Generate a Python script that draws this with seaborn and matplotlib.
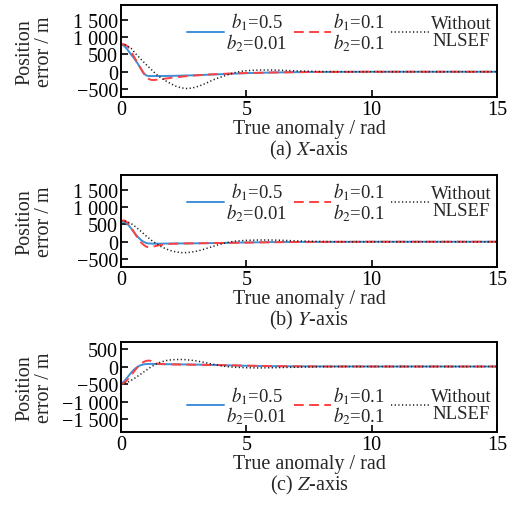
import numpy as np
import pandas as pd
import matplotlib
matplotlib.use("Agg")
import matplotlib.pyplot as plt
import seaborn as sns
from matplotlib.ticker import FuncFormatter, FixedLocator

sns.set_theme(style="ticks")
plt.rcParams["font.family"] = ["Liberation Serif", "DejaVu Serif"]
plt.rcParams["mathtext.fontset"] = "stix"

# ---------------- data ----------------
# (a) X-axis
x_blue_t = [0, 0.1, 0.2, 0.3, 0.4, 0.5, 0.6, 0.7, 0.8, 0.9, 1.0, 1.1, 1.5, 2.0, 2.5, 3.0, 3.5, 4.0, 4.5, 5.0, 6.0, 7.0, 8.0, 10.0, 15.0]
x_blue_v = [800, 760, 690, 600, 500, 410, 310, 200, 80, -40, -105, -125, -125, -120, -110, -100, -85, -70, -55, -40, -22, -12, -5, 0, 0]
x_red_t = [0, 0.1, 0.2, 0.3, 0.4, 0.5, 0.6, 0.7, 0.8, 0.9, 1.0, 1.1, 1.2, 1.3, 1.5, 1.8, 2.0, 2.5, 3.0, 3.5, 4.0, 4.5, 5.0, 6.0, 7.0, 8.0, 10.0, 15.0]
x_red_v = [780, 800, 770, 700, 590, 460, 330, 200, 80, -40, -140, -205, -235, -240, -225, -195, -175, -135, -105, -80, -62, -48, -38, -22, -12, -5, 0, 0]
x_dot_t = [0, 0.2, 0.4, 0.6, 0.8, 1.0, 1.2, 1.4, 1.6, 1.8, 2.0, 2.2, 2.4, 2.6, 2.8, 3.0, 3.2, 3.4, 3.6, 3.8, 4.0, 4.2, 4.4, 4.6, 4.8, 5.0, 5.5, 6.0, 6.5, 7.0, 8.0, 9.0, 15.0]
x_dot_v = [800, 770, 680, 510, 360, 210, 70, -70, -180, -270, -350, -420, -465, -485, -475, -440, -390, -330, -260, -200, -150, -100, -55, -15, 15, 30, 50, 50, 40, 25, 5, 0, 0]

# (b) Y-axis
y_blue_t = [0, 0.1, 0.2, 0.3, 0.4, 0.5, 0.6, 0.7, 0.8, 0.9, 1.0, 1.1, 1.3, 1.5, 2.0, 3.0, 4.0, 5.0, 6.0, 8.0, 10.0, 15.0]
y_blue_v = [580, 575, 550, 480, 390, 290, 200, 120, 50, 0, -35, -50, -55, -55, -50, -45, -35, -20, -10, -3, 0, 0]
y_red_t = [0, 0.1, 0.2, 0.3, 0.4, 0.5, 0.6, 0.7, 0.8, 0.9, 1.0, 1.1, 1.2, 1.4, 1.6, 2.0, 2.5, 3.0, 4.0, 5.0, 6.0, 7.0, 8.0, 10.0, 15.0]
y_red_v = [600, 620, 590, 520, 420, 300, 180, 70, -20, -90, -140, -160, -150, -120, -90, -60, -50, -45, -35, -25, -15, -8, -4, 0, 0]
y_dot_t = [0, 0.2, 0.4, 0.6, 0.8, 1.0, 1.2, 1.4, 1.6, 1.8, 2.0, 2.2, 2.4, 2.6, 2.8, 3.0, 3.2, 3.4, 3.6, 3.8, 4.0, 4.2, 4.4, 4.6, 5.0, 5.5, 6.0, 6.5, 7.0, 8.0, 9.0, 15.0]
y_dot_v = [600, 590, 530, 420, 300, 170, 50, -50, -140, -210, -260, -295, -315, -315, -300, -275, -240, -195, -150, -105, -65, -30, 0, 20, 40, 50, 50, 40, 25, 5, 0, 0]

# (c) Z-axis
z_blue_t = [0, 0.1, 0.2, 0.3, 0.4, 0.5, 0.6, 0.7, 0.8, 0.9, 1.0, 1.2, 1.5, 2.0, 3.0, 4.0, 5.0, 6.0, 8.0, 10.0, 15.0]
z_blue_v = [-500, -440, -360, -270, -180, -100, -40, 10, 40, 60, 70, 75, 70, 65, 55, 40, 20, 10, 3, 0, 0]
z_red_t = [0, 0.1, 0.2, 0.3, 0.4, 0.5, 0.6, 0.7, 0.8, 0.9, 1.0, 1.1, 1.2, 1.3, 1.4, 1.6, 2.0, 3.0, 4.0, 5.0, 6.0, 7.0, 8.0, 15.0]
z_red_v = [-500, -480, -420, -340, -250, -160, -70, 10, 80, 130, 160, 170, 160, 120, 90, 70, 60, 50, 40, 25, 12, 5, 0, 0]
z_dot_t = [0, 0.2, 0.4, 0.6, 0.8, 1.0, 1.2, 1.4, 1.6, 1.8, 2.0, 2.2, 2.4, 2.6, 2.8, 3.0, 3.2, 3.4, 3.6, 3.8, 4.0, 4.2, 4.5, 5.0, 5.5, 6.0, 7.0, 8.0, 9.0, 15.0]
z_dot_v = [-500, -470, -400, -310, -210, -110, -10, 70, 130, 170, 190, 200, 200, 195, 180, 160, 135, 105, 75, 45, 20, 0, -20, -35, -40, -35, -20, -5, 0, 0]

series_labels = ["$b_1$=0.5\n$b_2$=0.01", "$b_1$=0.1\n$b_2$=0.1", "Without\nNLSEF"]
captions = ["(a) $\\mathit{X}$-axis", "(b) $\\mathit{Y}$-axis", "(c) $\\mathit{Z}$-axis"]
x_ticks = [0, 5, 10, 15]
y_ticks_top = [-500, 0, 500, 1000, 1500]
y_ticks_bot = [-1500, -1000, -500, 0, 500]

panels = [
    ((x_blue_t, x_blue_v), (x_red_t, x_red_v), (x_dot_t, x_dot_v)),
    ((y_blue_t, y_blue_v), (y_red_t, y_red_v), (y_dot_t, y_dot_v)),
    ((z_blue_t, z_blue_v), (z_red_t, z_red_v), (z_dot_t, z_dot_v)),
]

colors = ["#3f8fd8", "#ff4040", "#1a1a1a"]
styles = ["-", (0, (5, 2.8)), (0, (0.8, 1.6))]
widths = [1.4, 1.4, 1.1]

W, H = 513, 506
fig = plt.figure(figsize=(W / 100, H / 100), dpi=100)
boxes = [(6, 98), (176, 268), (343, 433)]
left_px, right_px = 121, 497
FS = 14.5

for i, (ser, (top, bot)) in enumerate(zip(panels, boxes)):
    ax = fig.add_axes([left_px / W, 1 - bot / H, (right_px - left_px) / W, (bot - top) / H])
    for (t, v), c, ls, lw, lab in zip(ser, colors, styles, widths, series_labels):
        sns.lineplot(x=t, y=v, ax=ax, color=c, linestyle=ls, linewidth=lw, label=lab)
    ax.set_xlim(0, 15)
    ax.xaxis.set_major_locator(FixedLocator(x_ticks))
    if i < 2:
        ax.set_ylim(-730, 1930)
        ax.yaxis.set_major_locator(FixedLocator(y_ticks_top))
        loc = "upper right"
    else:
        ax.set_ylim(-1870, 700)
        ax.yaxis.set_major_locator(FixedLocator(y_ticks_bot))
        loc = "lower right"
    ax.yaxis.set_major_formatter(FuncFormatter(
        lambda v, p: f"{int(v):,}".replace(",", " ").replace("-", "\u2212")))
    ax.tick_params(direction="in", length=5, width=1.2, labelsize=FS, pad=2, colors="black")
    for s in ax.spines.values():
        s.set_linewidth(1.4)
        s.set_color("black")
    ax.set_xlabel("True anomaly / rad", fontsize=FS, labelpad=0)
    ax.set_ylabel("Position\nerror / m", fontsize=FS, linespacing=1.05)
    ax.yaxis.set_label_coords(-0.177, 0.5)
    leg = ax.legend(loc=loc, ncol=3, frameon=False, fontsize=13.5, handlelength=2.0,
                    handletextpad=0.1, columnspacing=0.35, borderaxespad=0.1,
                    borderpad=0.2)
    for txt in leg.get_texts():
        txt.set_multialignment("center")
        txt.set_linespacing(0.95)
    fig.text(0.5 * (left_px + right_px) / W, 1 - (bot + 52) / H, captions[i],
             ha="center", va="center", fontsize=FS)

fig.savefig("out.png", dpi=100)
